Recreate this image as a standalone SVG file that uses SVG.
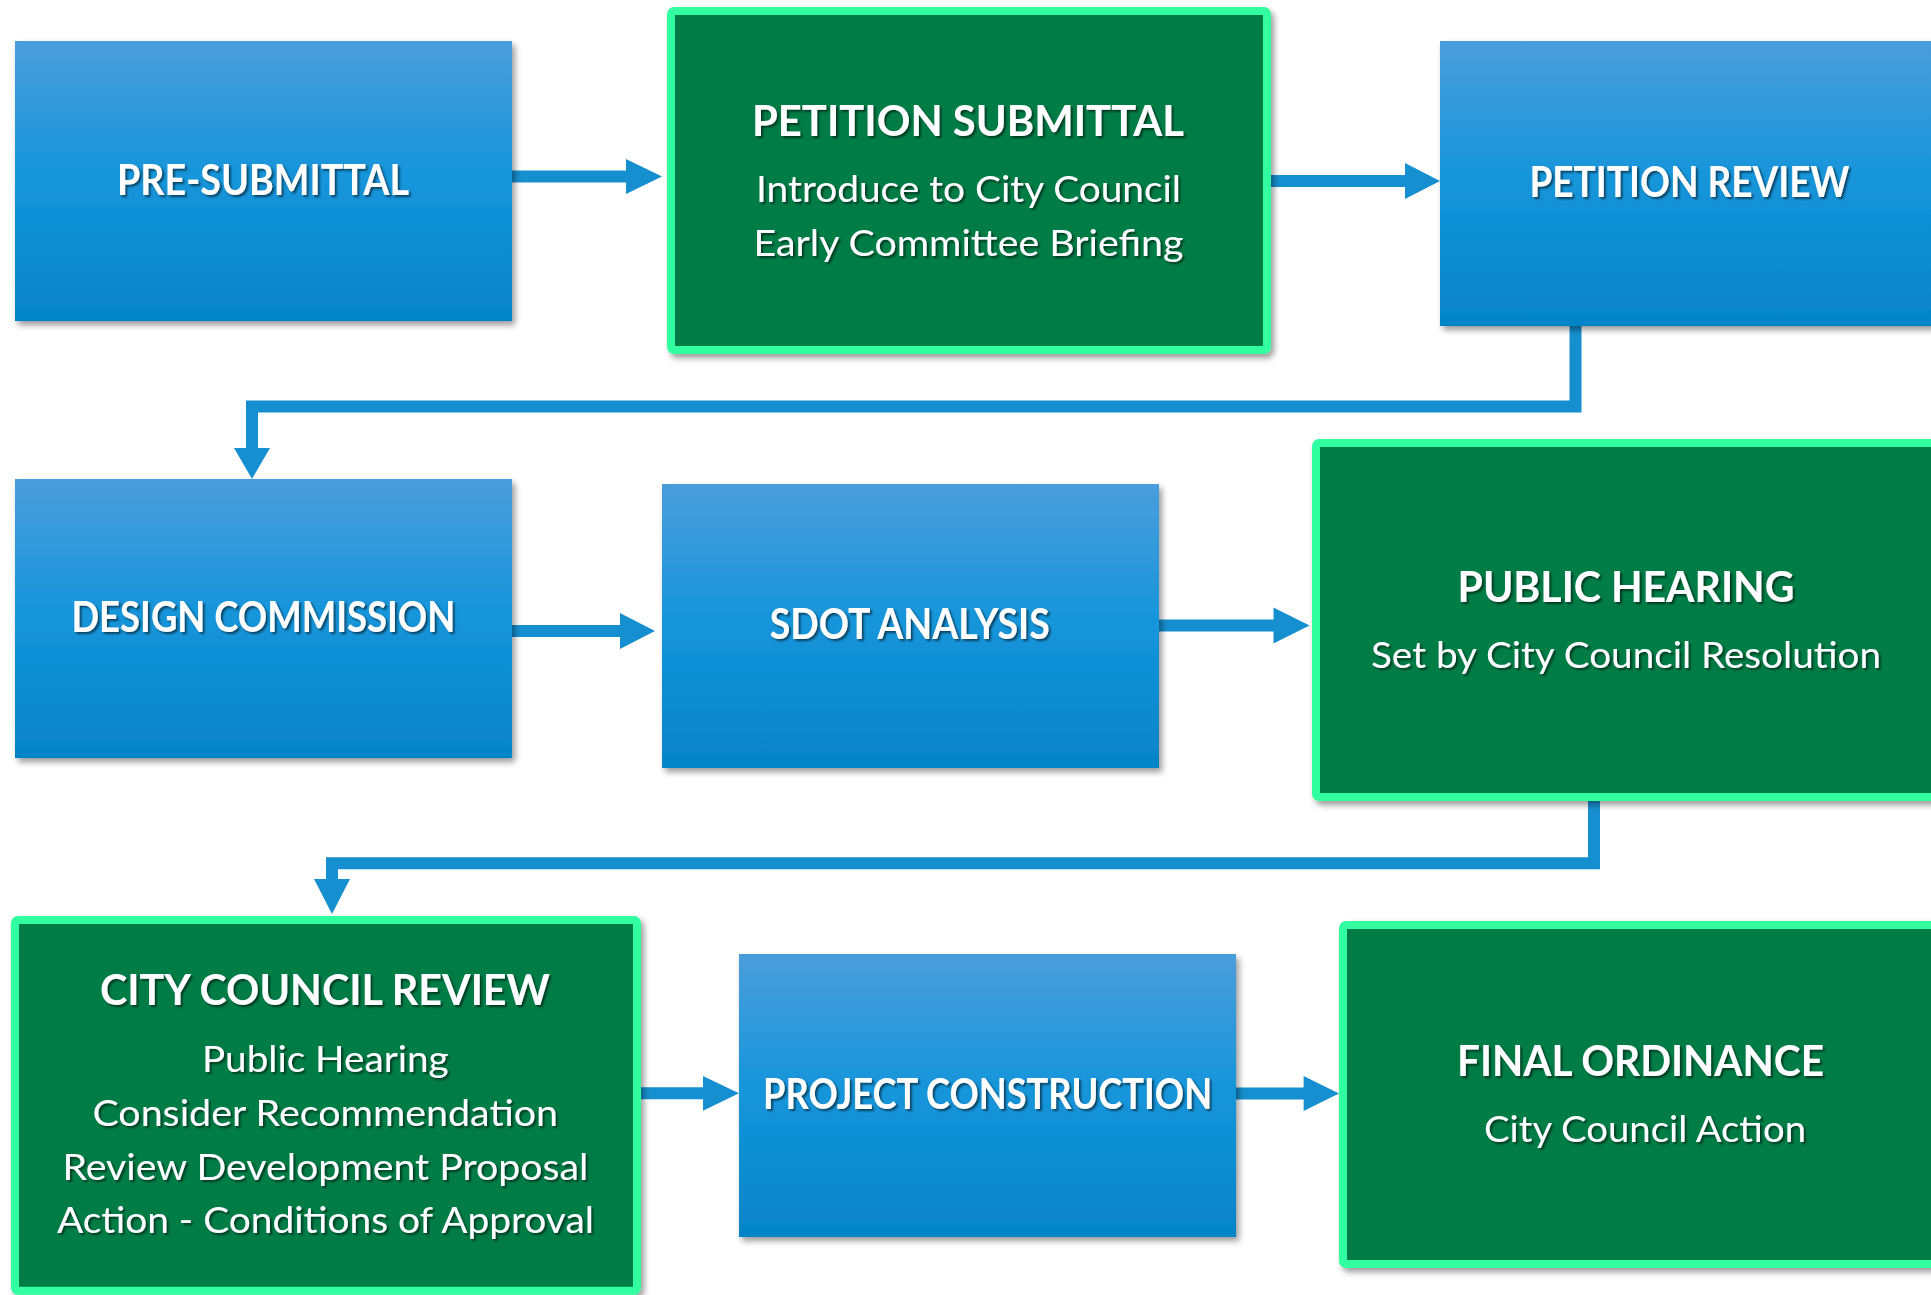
<svg xmlns="http://www.w3.org/2000/svg" width="1931" height="1295" viewBox="0 0 1931 1295">
<defs>
<linearGradient id="blueGrad" x1="0" y1="0" x2="0" y2="1">
<stop offset="0" stop-color="#4B9DDB"/>
<stop offset="0.5" stop-color="#1495DA"/>
<stop offset="1" stop-color="#0584C8"/>
</linearGradient>
<filter id="boxShadow" x="-5%" y="-5%" width="115%" height="115%">
<feDropShadow dx="3" dy="4" stdDeviation="3" flood-color="#000" flood-opacity="0.4"/>
</filter>
<filter id="textShadow" x="-5%" y="-20%" width="110%" height="150%">
<feDropShadow dx="2" dy="2" stdDeviation="1.2" flood-color="#000" flood-opacity="0.55"/>
</filter>
</defs>
<style>
.blue { fill: url(#blueGrad); filter: url(#boxShadow); }
.green { fill: #007D46; stroke: #33FF9F; stroke-width: 8; filter: url(#boxShadow); }
.t { font-family: Lato, "Open Sans", "Liberation Sans", sans-serif; fill: #FFFFFF; text-anchor: middle; filter: url(#textShadow); }
.h { font-weight: 700; font-size: 42px; }
.s { font-weight: 400; font-size: 37px; }
.conn { fill: none; stroke: #168FD0; stroke-width: 12; }
.head { fill: #168FD0; }
</style>
<rect width="1931" height="1295" fill="#FFFFFF"/>

<g id="connectors">
<path class="conn" d="M512 176.5 H630"/>
<polygon class="head" points="626,159 662,176.5 626,194"/>
<path class="conn" d="M1271 181 H1410"/>
<polygon class="head" points="1405,163 1440,181 1405,199"/>
<path class="conn" d="M1575.5 324 V406.5 H252 V452"/>
<polygon class="head" points="234,448 252,479 270,448"/>
<path class="conn" d="M512 631 H624"/>
<polygon class="head" points="620,613 655,631 620,649"/>
<path class="conn" d="M1159 625.5 H1278"/>
<polygon class="head" points="1273.5,607.5 1309.5,625.5 1273.5,643.5"/>
<path class="conn" d="M1594 800 V863.3 H332 V883"/>
<polygon class="head" points="314,879 332,914 350,879"/>
<path class="conn" d="M641 1093.3 H707"/>
<polygon class="head" points="703,1076 739,1093.3 703,1110.7"/>
<path class="conn" d="M1236 1093.5 H1308"/>
<polygon class="head" points="1303.6,1076 1339,1093.5 1303.6,1111"/>
</g>

<g id="pre-submittal">
<rect class="blue" x="15" y="41" width="497" height="280"/>
<text class="t h" x="263" y="195" textLength="292" lengthAdjust="spacingAndGlyphs">PRE-SUBMITTAL</text>
</g>

<g id="petition-submittal">
<rect class="green" x="671" y="11" width="596" height="339" rx="3"/>
<text class="t h" x="968" y="135.7" textLength="432" lengthAdjust="spacingAndGlyphs">PETITION SUBMITTAL</text>
<text class="t s" x="968.5" y="201.7" textLength="425" lengthAdjust="spacingAndGlyphs">Introduce to City Council</text>
<text class="t s" x="968.5" y="256" textLength="430" lengthAdjust="spacingAndGlyphs">Early Committee Briefing</text>
</g>

<g id="petition-review">
<rect class="blue" x="1440" y="41" width="497" height="285"/>
<text class="t h" x="1689.4" y="196.7" textLength="320" lengthAdjust="spacingAndGlyphs">PETITION REVIEW</text>
</g>

<g id="design-commission">
<rect class="blue" x="15" y="479" width="497" height="279"/>
<text class="t h" x="263.4" y="631.7" textLength="384" lengthAdjust="spacingAndGlyphs">DESIGN COMMISSION</text>
</g>

<g id="sdot-analysis">
<rect class="blue" x="662" y="484" width="497" height="284"/>
<text class="t h" x="909.7" y="639" textLength="280" lengthAdjust="spacingAndGlyphs">SDOT ANALYSIS</text>
</g>

<g id="public-hearing">
<rect class="green" x="1316" y="443" width="620" height="354" rx="3"/>
<text class="t h" x="1626" y="601.7" textLength="337" lengthAdjust="spacingAndGlyphs">PUBLIC HEARING</text>
<text class="t s" x="1626" y="668.3" textLength="510" lengthAdjust="spacingAndGlyphs">Set by City Council Resolution</text>
</g>

<g id="city-council-review">
<rect class="green" x="15" y="920" width="622" height="370.7" rx="3"/>
<text class="t h" x="325" y="1005" textLength="450" lengthAdjust="spacingAndGlyphs">CITY COUNCIL REVIEW</text>
<text class="t s" x="325.4" y="1071.7" textLength="246.7" lengthAdjust="spacingAndGlyphs">Public Hearing</text>
<text class="t s" x="325.2" y="1126" textLength="465.6" lengthAdjust="spacingAndGlyphs">Consider Recommendation</text>
<text class="t s" x="325.4" y="1180" textLength="526" lengthAdjust="spacingAndGlyphs">Review Development Proposal</text>
<text class="t s" x="325.4" y="1233.3" textLength="537" lengthAdjust="spacingAndGlyphs">Action - Conditions of Approval</text>
</g>

<g id="project-construction">
<rect class="blue" x="739" y="954" width="497" height="283"/>
<text class="t h" x="987.6" y="1108.7" textLength="449" lengthAdjust="spacingAndGlyphs">PROJECT CONSTRUCTION</text>
</g>

<g id="final-ordinance">
<rect class="green" x="1343" y="925" width="598" height="339" rx="3"/>
<text class="t h" x="1640.5" y="1076" textLength="367" lengthAdjust="spacingAndGlyphs">FINAL ORDINANCE</text>
<text class="t s" x="1645" y="1141.7" textLength="322" lengthAdjust="spacingAndGlyphs">City Council Action</text>
</g>
</svg>
